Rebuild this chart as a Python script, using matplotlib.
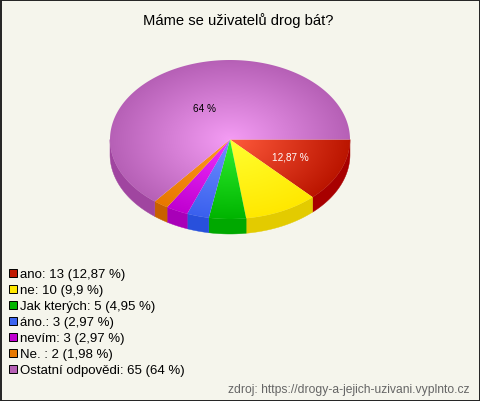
#!/usr/bin/env python3
"""3D-look pie chart: Máme se uživatelů drog bát?"""
import matplotlib
matplotlib.use("Agg")
import matplotlib.pyplot as plt
from matplotlib.patches import Polygon, Rectangle
import numpy as np

plt.rcParams["font.family"] = ["Liberation Sans", "DejaVu Sans"]

title = "Máme se uživatelů drog bát?"
source = "zdroj: https://drogy-a-jejich-uzivani.vyplnto.cz"

labels = ["ano", "ne", "Jak kterých", "áno.", "nevím", "Ne. ", "Ostatní odpovědi"]
counts = [13, 10, 5, 3, 3, 2, 65]
shares = [12.87, 9.9, 4.95, 2.97, 2.97, 1.98, 64]
share_text = ["12,87", "9,9", "4,95", "2,97", "2,97", "1,98", "64"]

# centre colour, rim colour, side colour, legend colour
light = ["#ff5a3c", "#ffff30", "#30f030", "#7090ff", "#f030ff", "#ff9a20", "#f49cf4"]
rim = ["#bb1500", "#ffe800", "#00b400", "#3a60ee", "#c000d0", "#e87800", "#b660b6"]
side = ["#a80000", "#e3cb00", "#00a800", "#2850dc", "#a800b8", "#c86000", "#a045a0"]
swatch = ["#c01800", "#ffe800", "#00b400", "#3c64f0", "#c000d0", "#e87800", "#b660b6"]

BG = "#f5f5ec"
cx, cy, rx, ry, depth = 230, 140.5, 120, 79.5, 15


def rgb(c):
    return np.array(matplotlib.colors.to_rgb(c))


fig = plt.figure(figsize=(4.8, 4.02), dpi=100, facecolor=BG)
ax = fig.add_axes([0, 0, 1, 1])
ax.set_xlim(0, 480)
ax.set_ylim(402, 0)
ax.axis("off")

total = sum(shares)
edges = np.radians(np.cumsum([0] + shares) / total * 360)

# side wall first, only the front half shows
for i in range(len(shares)):
    a0, a1 = edges[i], min(edges[i + 1], np.pi)
    if a0 >= a1:
        continue
    t = np.linspace(a0, a1, 60)
    xs = cx + rx * np.cos(t)
    ys = cy + ry * np.sin(t)
    pts = np.r_[np.c_[xs, ys], np.c_[xs, ys + depth][::-1]]
    ax.add_patch(Polygon(pts, closed=True, fc=side[i], ec=side[i], lw=0.3, zorder=2))

# top face: radial gradient per slice clipped to the wedge
gx, gy = np.meshgrid(np.linspace(cx - rx, cx + rx, 480), np.linspace(cy - ry, cy + ry, 316))
dist = np.clip(np.hypot((gx - cx) / rx, (gy - cy) / ry), 0, 1)[..., None]
for i in range(len(shares)):
    img = rgb(light[i]) * (1 - dist) + rgb(rim[i]) * dist
    t = np.linspace(edges[i], edges[i + 1], 200)
    pts = np.r_[[[cx, cy]], np.c_[cx + rx * np.cos(t), cy + ry * np.sin(t)]]
    poly = Polygon(pts, closed=True, fc="none", ec="none", transform=ax.transData)
    ax.add_patch(poly)
    im = ax.imshow(img, extent=(cx - rx, cx + rx, cy + ry, cy - ry), zorder=3,
                   interpolation="bilinear", aspect="auto")
    im.set_clip_path(poly)
ax.set_xlim(0, 480)
ax.set_ylim(402, 0)

ax.text(272, 157.5, "12,87 %", fontsize=7.2, color="white", va="center", zorder=5)
ax.text(193, 109, "64 %", fontsize=7.2, color="black", va="center", zorder=5)

ax.text(238, 20.5, title, fontsize=10.6, ha="center", va="center", color="black")

# legend
for i, lab in enumerate(labels):
    y = 274 + i * 16
    ax.add_patch(Rectangle((9, y - 4), 8, 8, fc=swatch[i], ec="black", lw=0.7, zorder=4))
    ax.text(20, y + 1.5, f"{lab}: {counts[i]} ({share_text[i]} %)", fontsize=9.5,
            va="center", color="black")

ax.text(470, 390, source, fontsize=8.7, ha="right", va="center", color="#666666")

# dark frame round the chart
ax.add_patch(Rectangle((0.5, 0.5), 479, 401, fc="none", ec="#222222", lw=1.4, zorder=6))

fig.savefig("out.png", dpi=100, facecolor=BG)
